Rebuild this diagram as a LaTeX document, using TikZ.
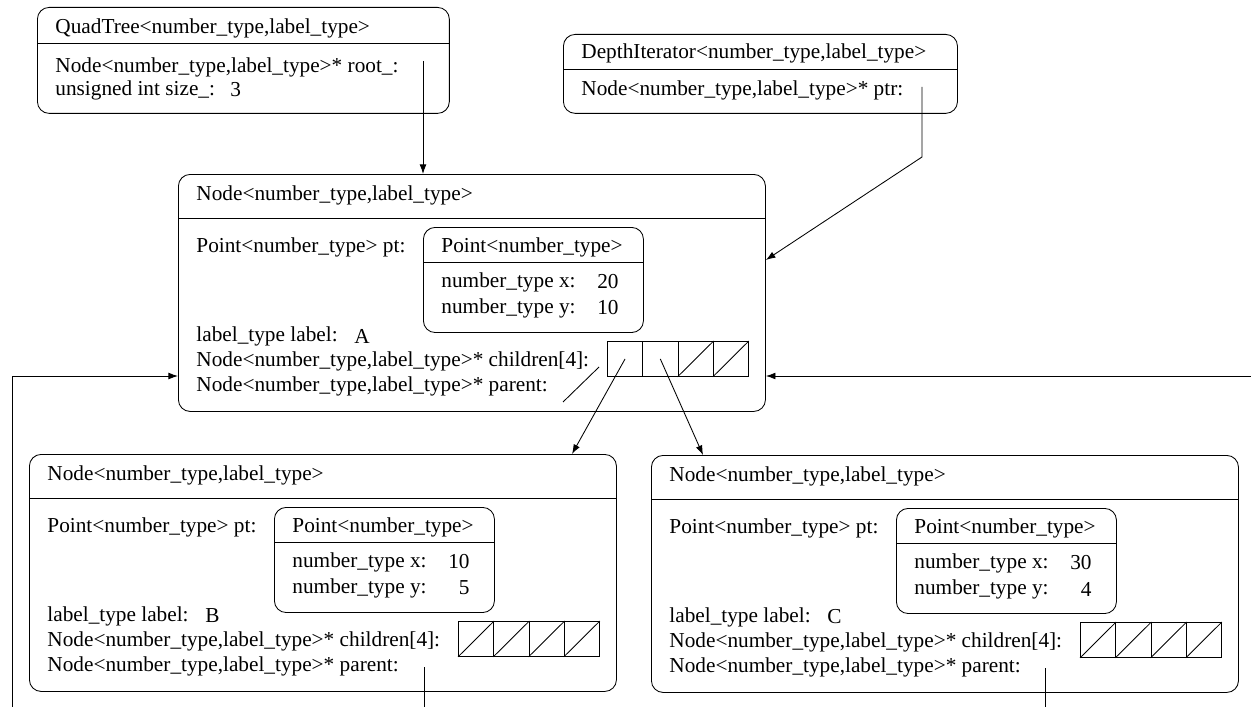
\documentclass[tikz,border=0pt]{standalone}
\usepackage{fontspec}
\setmainfont{Liberation Serif}
\usetikzlibrary{calc,arrows.meta}
\begin{document}
\begin{tikzpicture}[x=0.47pt, y=-0.47pt,
	box/.style={draw, rounded corners=5.5pt, anchor=north west, inner sep=0pt},
	treenode/.style={box, minimum width=275.9pt, minimum height=111.4pt},
	pointbox/.style={box, minimum width=103.4pt, minimum height=49.4pt},
	cell/.style={draw, anchor=north west, inner sep=0pt, minimum width=16.57pt, minimum height=16.45pt},
	txt/.style={anchor=west, inner sep=0pt},
	val/.style={anchor=east, inner sep=0pt},
	ptr/.style={-{Latex[length=4.5pt, width=3.2pt]}}]
	\useasboundingbox (0,0) rectangle (1251,706);
	\clip (0,0) rectangle (1251,706);
	%quadtree
	\node[box, minimum width=193.6pt, minimum height=49.8pt] (qt) at (37,7) {};
	\draw ($(qt.north west)+(0,36)$) -- ($(qt.north east)+(0,36)$);
	\node[txt] at ($(qt.north west)+(18,21)$) {QuadTree<number\_type,label\_type>};
	\node[txt] at ($(qt.north west)+(18,60)$) {Node<number\_type,label\_type>* root\_:};
	\node[txt] at ($(qt.north west)+(18,83)$) {unsigned int size\_:};
	\node[txt] at ($(qt.north west)+(193,83)$) {3};
	%iterator
	\node[box, minimum width=185.2pt, minimum height=37.1pt] (di) at (563,34) {};
	\draw ($(di.north west)+(0,35)$) -- ($(di.north east)+(0,35)$);
	\node[txt] at ($(di.north west)+(18,19)$) {DepthIterator<number\_type,label\_type>};
	\node[txt] at ($(di.north west)+(18,56)$) {Node<number\_type,label\_type>* ptr:};
	%tree nodes
	\foreach \nd/\px/\py/\lbl/\vx/\vy/\nk in {A/178/174/A/20/10/2, B/29/454/B/10/5/0, C/651/455/C/30/4/0}{
		\node[treenode] (\nd) at (\px,\py) {};
		\draw ($(\nd.north west)+(0,44)$) -- ($(\nd.north east)+(0,44)$);
		\node[txt] at ($(\nd.north west)+(18,21)$) {Node<number\_type,label\_type>};
		\node[txt] at ($(\nd.north west)+(18,73)$) {Point<number\_type> pt:};
		\node[txt] at ($(\nd.north west)+(18,162)$) {label\_type label:};
		\node[txt] at ($(\nd.north west)+(176,162)$) {\lbl};
		\node[txt] at ($(\nd.north west)+(18,187)$) {Node<number\_type,label\_type>* children[4]:};
		\node[txt] at ($(\nd.north west)+(18,212)$) {Node<number\_type,label\_type>* parent:};
		%point
		\node[pointbox] (\nd-pt) at ($(\nd.north west)+(245,53)$) {};
		\draw ($(\nd-pt.north west)+(0,35)$) -- ($(\nd-pt.north east)+(0,35)$);
		\node[txt] at ($(\nd-pt.north west)+(18,20)$) {Point<number\_type>};
		\node[txt] at ($(\nd-pt.north west)+(18,55)$) {number\_type x:};
		\node[val] at ($(\nd-pt.north west)+(196,55)$) {\vx};
		\node[txt] at ($(\nd-pt.north west)+(18,81)$) {number\_type y:};
		\node[val] at ($(\nd-pt.north west)+(196,81)$) {\vy};
		%children array
		\foreach \i in {0,...,3}
		\node[cell] (\nd-c\i) at ($(\nd.north west)+(429+35.25*\i,167)$) {};
		\foreach \i in {\nk,...,3}
		\draw (\nd-c\i.south west) -- (\nd-c\i.north east);
	}
	%pointers
	\coordinate (qt-root) at ($(qt.north west)+(386,54)$);
	\draw[ptr] (qt-root) -- (qt-root |- A.north);
	\coordinate (di-ptr) at ($(di.north west)+(359,53)$);
	\draw[ptr] (di-ptr) -- ++(0,70) -- ($(A.north east)+(0,86)$);
	\draw[ptr] (A-c0.center) -- ($(B.north west)+(543,0)$);
	\draw[ptr] (A-c1.center) -- ($(C.north west)+(52,0)$);
	\draw ($(A.north west)+(421,193)$) -- ++(-36,35);
	\draw[ptr] ($(B.north west)+(395,213)$) -- ++(0,60) -| (12,376) -- ($(A.north west)+(0,202)$);
	\draw[ptr] ($(C.north west)+(394,213)$) -- ++(0,60) -| (1280,376) -- ($(A.north east)+(0,202)$);
\end{tikzpicture}
\end{document}
